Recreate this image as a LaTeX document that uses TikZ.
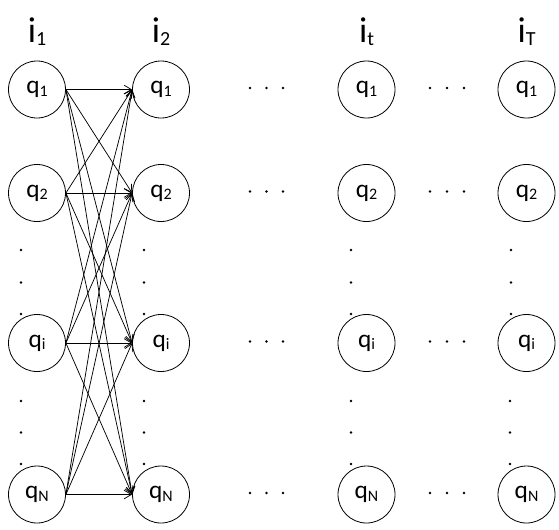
\documentclass[tikz,border=0pt]{standalone}
\usepackage{fontspec}
\setmainfont{Carlito}
\usetikzlibrary{arrows.meta, positioning}

% state and time labels with small subscripts
\newcommand{\qstate}[1]{q\raisebox{-1.8pt}{\fontsize{12}{12}\selectfont #1}}
\newcommand{\itime}[1]{i\raisebox{-2.6pt}{\fontsize{15}{15}\selectfont #1}}

\begin{document}
\begin{tikzpicture}[
    x=0.75pt, y=-0.75pt,
    state/.style={circle, draw, line width=0.6pt, minimum size=42.75pt, inner sep=0pt, font=\fontsize{19}{19}\selectfont},
    timelabel/.style={anchor=base, font=\fontsize{27}{27}\selectfont},
    arrow/.style={-{Straight Barb[length=5.5pt, width=6.5pt]}, line width=0.55pt}
]
\useasboundingbox (0,0) rectangle (559,529);

% Time step labels
\node[timelabel] (t1) at (37, 42) {\itime{1}};
\node[timelabel] (t2) at (161, 42) {\itime{2}};
\node[timelabel] (tt) at (366.5, 42) {\itime{t}};
\node[timelabel] (tT) at (526.5, 42) {\itime{T}};

% Column i_1
\node[state] (a1) at (37, 89.5) {\qstate{1}};
\node[state] (a2) at (37, 193) {\qstate{2}};
\node[state] (ai) at (37, 343) {\qstate{i}};
\node[state] (aN) at (37, 494.5) {\qstate{N}};

% Column i_2
\node[state] (b1) at (161, 89.5) {\qstate{1}};
\node[state] (b2) at (161, 193) {\qstate{2}};
\node[state] (bi) at (161, 343) {\qstate{i}};
\node[state] (bN) at (161, 494.5) {\qstate{N}};

% Column i_t
\node[state] (c1) at (366.5, 89.5) {\qstate{1}};
\node[state] (c2) at (366.5, 193) {\qstate{2}};
\node[state] (ci) at (366.5, 343) {\qstate{i}};
\node[state] (cN) at (366.5, 494.5) {\qstate{N}};

% Column i_T
\node[state] (d1) at (526.5, 89.5) {\qstate{1}};
\node[state] (d2) at (526.5, 193) {\qstate{2}};
\node[state] (di) at (526.5, 343) {\qstate{i}};
\node[state] (dN) at (526.5, 494.5) {\qstate{N}};

% Transitions i_1 -> i_2
\draw[arrow] (a1.east) -- (b1.west);
\draw[arrow] (a1.east) -- (b2.west);
\draw[arrow] (a1.east) -- (bi.west);
\draw[arrow] (a1.east) -- (bN.west);
\draw[arrow] (a2.east) -- (b1.west);
\draw[arrow] (a2.east) -- (b2.west);
\draw[arrow] (a2.east) -- (bi.west);
\draw[arrow] (a2.east) -- (bN.west);
\draw[arrow] (ai.east) -- (b1.west);
\draw[arrow] (ai.east) -- (b2.west);
\draw[arrow] (ai.east) -- (bi.west);
\draw[arrow] (ai.east) -- (bN.west);
\draw[arrow] (aN.east) -- (b1.west);
\draw[arrow] (aN.east) -- (b2.west);
\draw[arrow] (aN.east) -- (bi.west);
\draw[arrow] (aN.east) -- (bN.west);

% Horizontal ellipses between columns
\fill (250,88) circle (1.05pt) (266.5,88) circle (1.05pt) (283,88) circle (1.05pt);
\fill (250,191.5) circle (1.05pt) (266.5,191.5) circle (1.05pt) (283,191.5) circle (1.05pt);
\fill (250,341.5) circle (1.05pt) (266.5,341.5) circle (1.05pt) (283,341.5) circle (1.05pt);
\fill (250,493) circle (1.05pt) (266.5,493) circle (1.05pt) (283,493) circle (1.05pt);
\fill (430,88) circle (1.05pt) (447,88) circle (1.05pt) (464,88) circle (1.05pt);
\fill (430,191.5) circle (1.05pt) (447,191.5) circle (1.05pt) (464,191.5) circle (1.05pt);
\fill (430,341.5) circle (1.05pt) (447,341.5) circle (1.05pt) (464,341.5) circle (1.05pt);
\fill (430,493) circle (1.05pt) (447,493) circle (1.05pt) (464,493) circle (1.05pt);

% Vertical ellipses inside columns
\fill (21,250) circle (1.05pt) (21,282.5) circle (1.05pt) (21,314) circle (1.05pt);
\fill (21,401) circle (1.05pt) (21,432.5) circle (1.05pt) (21,464) circle (1.05pt);
\fill (144,250) circle (1.05pt) (144,282.5) circle (1.05pt) (144,314) circle (1.05pt);
\fill (144,401) circle (1.05pt) (144,432.5) circle (1.05pt) (144,464) circle (1.05pt);
\fill (351,250) circle (1.05pt) (351,282.5) circle (1.05pt) (351,314) circle (1.05pt);
\fill (351,401) circle (1.05pt) (351,432.5) circle (1.05pt) (351,464) circle (1.05pt);
\fill (511,250) circle (1.05pt) (511,282.5) circle (1.05pt) (511,314) circle (1.05pt);
\fill (510,401) circle (1.05pt) (510,432.5) circle (1.05pt) (510,464) circle (1.05pt);

\end{tikzpicture}
\end{document}
